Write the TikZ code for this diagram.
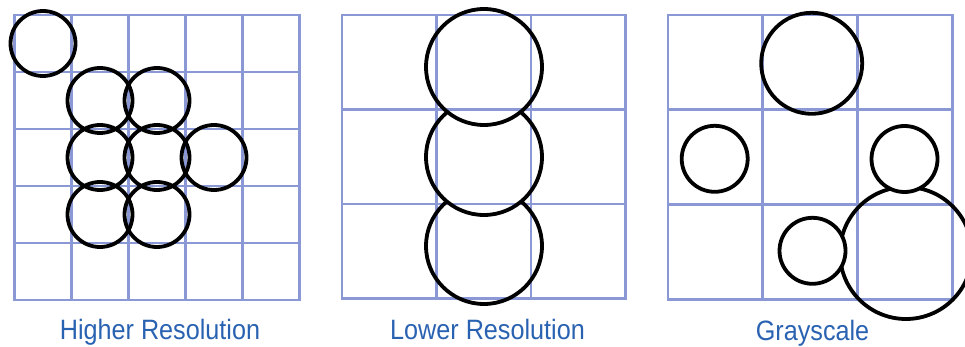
\documentclass[tikz,border=0pt]{standalone}
\usepackage{fontspec}
\newfontfamily\captionfont[FakeStretch=0.9]{Liberation Sans}
\definecolor{gridblue}{RGB}{138,153,214}
\definecolor{textblue}{RGB}{42,98,178}
\begin{document}
\begin{tikzpicture}[x=1pt, y=-1pt,
    gridline/.style={draw=gridblue, line width=2.8pt, line cap=rect},
    ring/.style={draw=black, line width=3.8pt},
    captiontext/.style={anchor=base, text=textblue, inner sep=0pt, font=\captionfont\fontsize{28}{30}\selectfont}]
  \useasboundingbox (0,0) rectangle (965,347);
  % higher resolution: 5 x 5 cells
  \foreach \k in {0,...,5} {
    \draw[gridline] (14.5+57*\k,15) -- (14.5+57*\k,300);
    \draw[gridline] (14.5,15+57*\k) -- (299.5,15+57*\k);
  }
  \foreach \i/\j in {0/0, 1/1, 2/1, 1/2, 2/2, 3/2, 1/3, 2/3}
    \draw[ring] (43+57*\i,43.5+57*\j) circle (32.5);
  \node[captiontext] (higher) at (160,339.5) {Higher Resolution};
  % lower resolution: 3 x 3 cells
  \foreach \k in {0,...,3} {
    \draw[gridline] (342+94.5*\k,15) -- (342+94.5*\k,298.5);
    \draw[gridline] (342,15+94.5*\k) -- (625.5,15+94.5*\k);
  }
  \begin{scope}[even odd rule]
    \clip (0,0) rectangle (965,347) (484,157) circle (58);
    \draw[ring] (484,246) circle (58);
  \end{scope}
  \begin{scope}[even odd rule]
    \clip (0,0) rectangle (965,347) (484,67) circle (58);
    \draw[ring] (484,157) circle (58);
  \end{scope}
  \draw[ring] (484,67) circle (58);
  \node[captiontext] (lower) at (487.5,339.5) {Lower Resolution};
  % grayscale: 3 x 3 cells
  \foreach \k in {0,...,3} {
    \draw[gridline] (668+94.7*\k,15) -- (668+94.7*\k,299.1);
    \draw[gridline] (668,15+94.7*\k) -- (952.1,15+94.7*\k);
  }
  \draw[ring] (811.7,63.3) circle (50.5);
  \draw[ring] (714.7,158.8) circle (33);
  \draw[ring] (904.5,159) circle (33);
  \draw[ring] (812.5,250.8) circle (33);
  \begin{scope}[even odd rule]
    \clip (0,0) rectangle (965,347) (904.5,159) circle (33) (812.5,250.8) circle (33);
    \draw[ring] (906,253) circle (66);
  \end{scope}
  \node[captiontext] (gray) at (812.5,340) {Grayscale};
\end{tikzpicture}
\end{document}
